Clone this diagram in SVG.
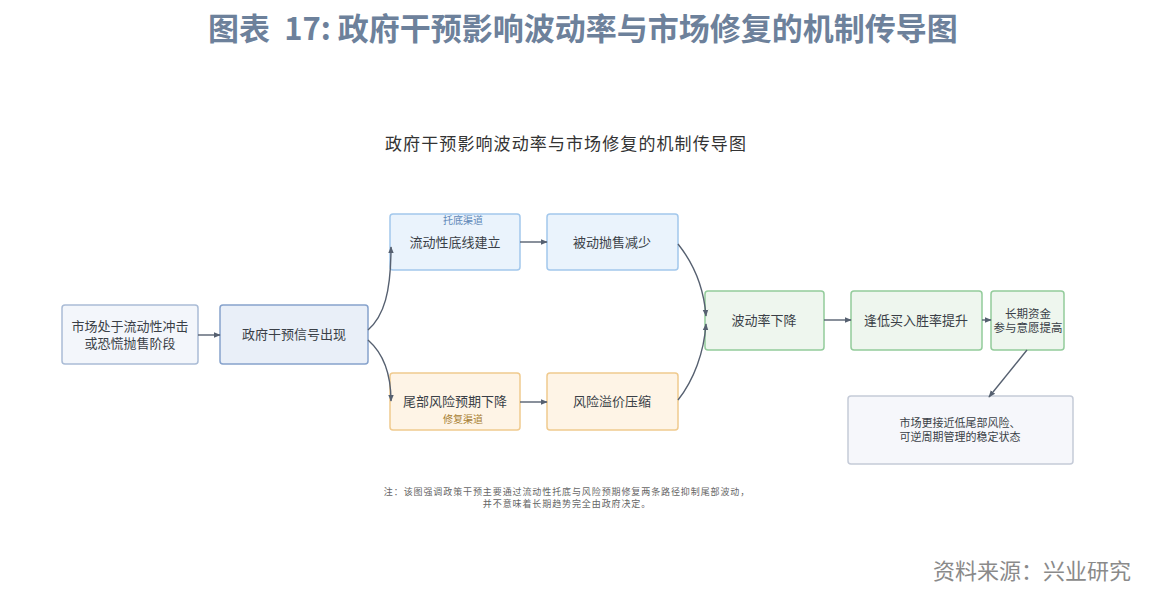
<svg xmlns="http://www.w3.org/2000/svg" width="1159" height="604" viewBox="0 0 1159 604">
<style>
text{font-family:"Noto Sans CJK SC","Noto Sans",sans-serif;}
.t{font-size:13px;fill:#3a3f47;text-anchor:middle;}
.box{stroke-width:1.5;}
.blue0{fill:#f3f6fb;stroke:#aabcd6;}
.blue1{fill:#e9eff8;stroke:#86a2cc;}
.blue2{fill:#eaf3fc;stroke:#a3c8ec;}
.orange{fill:#fef4e6;stroke:#f0ca8e;}
.green{fill:#eef6ee;stroke:#93cc9b;}
.gray{fill:#f6f7fb;stroke:#c5cbd8;}
.c{fill:none;stroke:#566070;stroke-width:1.4;marker-end:url(#ah);}
.fn{font-size:9px;fill:#666;text-anchor:middle;letter-spacing:0.9px;}
</style>
<defs>
<marker id="ah" viewBox="0 0 10 10" refX="9" refY="5" markerWidth="7" markerHeight="7" orient="auto" markerUnits="userSpaceOnUse">
<path d="M0,1 L10,5 L0,9 z" fill="#566070"/>
</marker>
</defs>
<rect width="1159" height="604" fill="#ffffff"/>
<text x="583" y="40" style="font-size:31px;font-weight:bold;fill:#6d819b;text-anchor:middle;" xml:space="preserve">图表  17: 政府干预影响波动率与市场修复的机制传导图</text>
<text x="566" y="150" style="font-size:17px;fill:#333;text-anchor:middle;letter-spacing:1.1px;">政府干预影响波动率与市场修复的机制传导图</text>

<g id="n1"><rect class="box blue0" x="62" y="305" width="136" height="59" rx="3"/>
<text class="t" x="130" y="331">市场处于流动性冲击</text><text class="t" x="130" y="348">或恐慌抛售阶段</text></g>
<g id="n2"><rect class="box blue1" x="220" y="305" width="148" height="59" rx="3"/>
<text class="t" x="294" y="339">政府干预信号出现</text></g>
<g id="n3"><rect class="box blue2" x="390" y="214" width="130" height="56" rx="3"/>
<text x="463" y="224" style="font-size:10px;fill:#5f88b8;text-anchor:middle;">托底渠道</text>
<text class="t" x="455" y="247">流动性底线建立</text></g>
<g id="n4"><rect class="box blue2" x="547" y="214" width="131" height="56" rx="3"/>
<text class="t" x="612" y="247">被动抛售减少</text></g>
<g id="n5"><rect class="box orange" x="390" y="373" width="130" height="57" rx="3"/>
<text class="t" x="455" y="406">尾部风险预期下降</text>
<text x="463" y="423" style="font-size:10px;fill:#a88034;text-anchor:middle;">修复渠道</text></g>
<g id="n6"><rect class="box orange" x="547" y="373" width="131" height="57" rx="3"/>
<text class="t" x="612" y="406">风险溢价压缩</text></g>
<g id="n7"><rect class="box green" x="705" y="291" width="119" height="59" rx="3"/>
<text class="t" x="764" y="325">波动率下降</text></g>
<g id="n8"><rect class="box green" x="851" y="291" width="131" height="59" rx="3"/>
<text class="t" x="916" y="325">逢低买入胜率提升</text></g>
<g id="n9"><rect class="box green" x="991" y="291" width="73" height="59" rx="3"/>
<text class="t" x="1028" y="318" style="font-size:11.5px;">长期资金</text><text class="t" x="1028" y="332" style="font-size:11.5px;">参与意愿提高</text></g>
<g id="n10"><rect class="box gray" x="848" y="396" width="225" height="68" rx="3"/>
<text class="t" x="960" y="427" style="font-size:11px;">市场更接近低尾部风险、</text><text class="t" x="960" y="441" style="font-size:11px;">可逆周期管理的稳定状态</text></g>

<g id="connectors">
<path class="c" d="M198,335 L220,335"/>
<path class="c" d="M368,330 C384,316 391,292 391,247"/>
<path class="c" d="M368,340 C384,354 391,375 391,401"/>
<path class="c" d="M520,242 L547,242"/>
<path class="c" d="M520,402 L547,402"/>
<path class="c" d="M678,244 C694,264 704,290 706,316"/>
<path class="c" d="M678,400 C694,380 704,352 706,324"/>
<path class="c" d="M824,320 L851,320"/>
<path class="c" d="M982,320 L991,320"/>
<path class="c" d="M1027,350 L989,397"/>
</g>

<text class="fn" x="567" y="495">注：该图强调政策干预主要通过流动性托底与风险预期修复两条路径抑制尾部波动，</text>
<text class="fn" x="567" y="507">并不意味着长期趋势完全由政府决定。</text>
<text x="1131" y="579" style="font-size:22px;fill:#8a8a8a;text-anchor:end;">资料来源：兴业研究</text>
</svg>
